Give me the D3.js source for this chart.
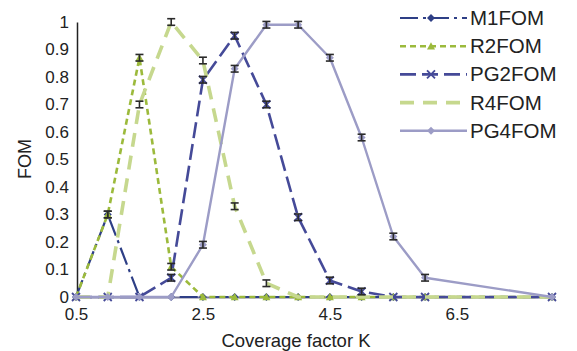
<!DOCTYPE html>
<html><head><meta charset="utf-8">
<script src="https://cdn.jsdelivr.net/npm/d3@7"></script>
<style>body{margin:0;background:#fff}svg{display:block;font-family:"Liberation Sans",Arial,sans-serif}</style>
</head><body><svg id="c" width="577" height="351"></svg>
<script>
const kValues = [0.5,1,1.5,2,2.5,3,3.5,4,4.5,5,5.5,6,8];
const M1FOM  = [0,0.30,0,0,0,0,0,0,0,0,0,0,0];
const R2FOM  = [0,0.30,0.87,0.11,0,0,0,0,0,0,0,0,0];
const PG2FOM = [0,0,0,0.07,0.79,0.95,0.70,0.29,0.06,0.02,0,0,0];
const R4FOM  = [0,0,0.70,1.00,0.86,0.33,0.05,0,0,0,0,0,0];
const PG4FOM = [0,0,0,0,0.19,0.83,0.99,0.99,0.87,0.58,0.22,0.07,0];
const seriesNames = ["M1FOM","R2FOM","PG2FOM","R4FOM","PG4FOM"];
const xTicks = [0.5,2.5,4.5,6.5];
const yTicks = [0,0.1,0.2,0.3,0.4,0.5,0.6,0.7,0.8,0.9,1];
const yTickLabels = ["0","0.1","0.2","0.3","0.4","0.5","0.6","0.7","0.8","0.9","1"];

const styles = {
  M1FOM:  {color:"#2e3f86", width:2.2, dash:"18,5,3,5", marker:"diamond"},
  R2FOM:  {color:"#9cba3c", width:2.6, dash:"6,4", marker:"triangle"},
  PG2FOM: {color:"#454a98", width:2.6, dash:"16,6", marker:"x"},
  R4FOM:  {color:"#c6d88e", width:3.6, dash:"14,9", marker:null},
  PG4FOM: {color:"#9c9cc6", width:2.4, dash:null, marker:"diamond"}
};
const dataMap = {M1FOM, R2FOM, PG2FOM, R4FOM, PG4FOM};

const svg = d3.select("#c");
const x = d3.scaleLinear().domain([0.5,8]).range([76,552]);
const y = d3.scaleLinear().domain([0,1]).range([297,22]);

// axes
const xAxis = svg.append("g").attr("transform","translate(0,297)")
  .call(d3.axisBottom(x).tickValues(xTicks).tickSize(0).tickPadding(11).tickFormat(d3.format(".1f")));
xAxis.select(".domain").attr("stroke","#7a7a9a").attr("stroke-width",2);
xAxis.selectAll("text").attr("font-size",17).attr("fill","#222").attr("font-family","Liberation Sans, Arial, sans-serif");

const yAxis = svg.append("g").attr("transform","translate(77,0)")
  .call(d3.axisLeft(y).tickValues(yTicks).tickSize(0).tickPadding(8).tickFormat((d,i)=>yTickLabels[i]));
yAxis.select(".domain").attr("stroke","#222").attr("stroke-width",1.5);
yAxis.selectAll("text").attr("font-size",17).attr("fill","#222").attr("font-family","Liberation Sans, Arial, sans-serif");

// titles
svg.append("text").attr("x",296).attr("y",347).attr("text-anchor","middle")
  .attr("font-size",18.5).attr("fill","#222").text("Coverage factor K");
svg.append("text").attr("transform","translate(31,159) rotate(-90)").attr("text-anchor","middle")
  .attr("font-size",18).attr("fill","#222").text("FOM");

function drawMarker(g, type, cx, cy, color, s) {
  if (type==="diamond") {
    g.append("path").attr("d",`M${cx},${cy-s}L${cx+s},${cy}L${cx},${cy+s}L${cx-s},${cy}Z`).attr("fill",color);
  } else if (type==="triangle") {
    g.append("path").attr("d",`M${cx},${cy-s}L${cx+s},${cy+s*0.8}L${cx-s},${cy+s*0.8}Z`).attr("fill",color);
  } else if (type==="x") {
    g.append("path").attr("d",`M${cx-s},${cy-s}L${cx+s},${cy+s}M${cx-s},${cy+s}L${cx+s},${cy-s}`)
      .attr("stroke",color).attr("stroke-width",1.8);
  }
}

const plot = svg.append("g");
seriesNames.forEach(name => {
  const st = styles[name];
  const vals = dataMap[name];
  const pts = kValues.map((k,i)=>[k, vals[i]]);
  const line = d3.line().x(d=>x(d[0])).y(d=>y(d[1]));
  plot.append("path").attr("d", line(pts)).attr("fill","none")
    .attr("stroke", st.color).attr("stroke-width", st.width)
    .attr("stroke-dasharray", st.dash).attr("stroke-linejoin","round");
  const mg = plot.append("g");
  pts.forEach(p => {
    if (st.marker) drawMarker(mg, st.marker, x(p[0]), y(p[1]), st.color, 4);
  });
});
// error bars
const eb = svg.append("g").attr("stroke","#2a2a2a").attr("stroke-width",1.6);
seriesNames.forEach(name => {
  const vals = dataMap[name];
  kValues.forEach((k,i) => {
    const v = vals[i];
    if (v <= 0) return;
    const cx = x(k), y1 = y(v+0.012), y2 = y(v-0.012);
    eb.append("line").attr("x1",cx).attr("x2",cx).attr("y1",y1).attr("y2",y2);
    eb.append("line").attr("x1",cx-4).attr("x2",cx+4).attr("y1",y1).attr("y2",y1);
    eb.append("line").attr("x1",cx-4).attr("x2",cx+4).attr("y1",y2).attr("y2",y2);
  });
});

// legend
const lg = svg.append("g");
seriesNames.forEach((name,i) => {
  const st = styles[name];
  const cy = 18 + i*28.2;
  lg.append("line").attr("x1",400).attr("x2",467).attr("y1",cy).attr("y2",cy)
    .attr("stroke",st.color).attr("stroke-width",st.width).attr("stroke-dasharray",st.dash);
  if (st.marker) drawMarker(lg, st.marker, 431, cy, st.color, 4);
  lg.append("text").attr("x",470).attr("y",cy+7).attr("font-size",20.5).attr("fill","#222").text(name);
});
</script></body></html>
